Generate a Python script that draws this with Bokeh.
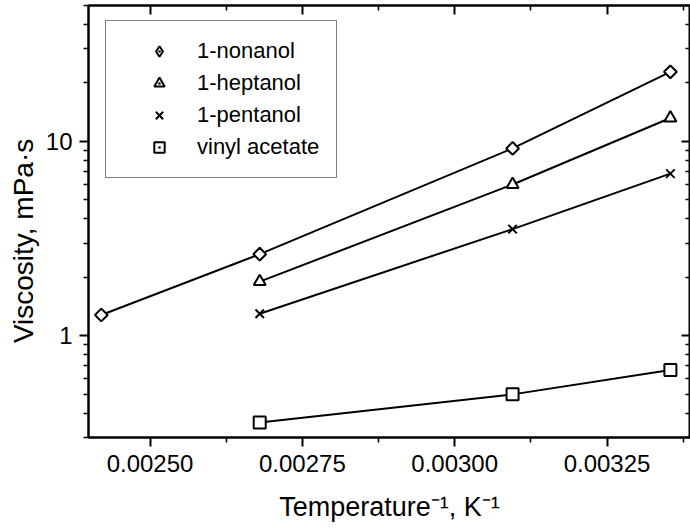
import math
from bokeh.plotting import figure
from bokeh.models import FixedTicker, PrintfTickFormatter, LinearAxis, LogAxis, Legend, LegendItem
from bokeh.embed import file_html
from bokeh.resources import INLINE

# inverse temperature, 1/K
inv_T_nonanol = [0.002420, 0.002680, 0.003095, 0.003354]
inv_T_others = [0.002680, 0.003095, 0.003354]

# viscosity, mPa·s
nonanol = [1.28, 2.63, 9.2, 22.8]
heptanol = [1.90, 6.0, 13.2]
pentanol = [1.30, 3.54, 6.83]
vinyl_acetate = [0.358, 0.50, 0.667]

series_names = ["1-nonanol", "1-heptanol", "1-pentanol", "vinyl acetate"]

x_major = [0.00250, 0.00275, 0.00300, 0.00325]
x_minor = [0.002625, 0.002875, 0.003125, 0.003375]
y_major = [1, 10]
y_minor = [0.3, 0.4, 0.5, 0.6, 0.7, 0.8, 0.9, 2, 3, 4, 5, 6, 7, 8, 9, 20, 30, 40, 50]

FONT = "Liberation Sans"
NB = "\u00a0"

p = figure(width=690, height=529, x_range=(0.002399, 0.003387), y_range=(0.3, 50),
           y_axis_type="log", output_backend="svg", toolbar_location=None,
           min_border_left=88, min_border_right=0, min_border_top=5, min_border_bottom=92,
           x_axis_label="Temperature\u207b\u00b9, K\u207b\u00b9",
           y_axis_label="Viscosity, mPa\u00b7s" + NB * 5)
p.grid.visible = False
p.outline_line_color = "black"
p.outline_line_width = 2
p.background_fill_color = "white"
p.border_fill_color = "white"

xt = FixedTicker(ticks=x_major, minor_ticks=x_minor)
yt = FixedTicker(ticks=y_major, minor_ticks=y_minor)

xa = p.xaxis[0]
xa.ticker = xt
xa.formatter = PrintfTickFormatter(format="%.5f")
ya = p.yaxis[0]
ya.ticker = yt
ya.formatter = PrintfTickFormatter(format="%d")

for ax in (xa, ya):
    ax.axis_line_width = 2
    ax.major_tick_line_width = 2
    ax.minor_tick_line_width = 1.5
    ax.major_tick_out = 9
    ax.major_tick_in = 0
    ax.minor_tick_out = 5
    ax.minor_tick_in = 0
    ax.major_label_text_font = FONT
    ax.major_label_text_font_size = "24px"
    ax.major_label_text_color = "black"
    ax.axis_label_text_font = FONT
    ax.axis_label_text_font_style = "normal"
    ax.axis_label_text_color = "black"
xa.axis_label_text_font_size = "27px"
ya.axis_label_text_font_size = "28px"
xa.major_label_standoff = 8
xa.axis_label_standoff = 17
ya.major_label_standoff = 7
ya.axis_label_standoff = 4

for ax, side in ((LinearAxis(ticker=xt), "above"), (LogAxis(ticker=yt), "right")):
    ax.major_label_text_font_size = "1px"
    ax.major_label_text_alpha = 0
    ax.major_label_standoff = 0
    ax.major_tick_out = 0
    ax.major_tick_in = 9
    ax.minor_tick_out = 0
    ax.minor_tick_in = 5
    ax.axis_line_width = 2
    ax.major_tick_line_width = 2
    ax.minor_tick_line_width = 1.5
    p.add_layout(ax, side)

# (x, y, plot marker, plot size, plot angle, legend marker, legend size)
data = [
    (inv_T_nonanol, nonanol, "square", 9, math.pi / 4, "diamond_dot", 13),
    (inv_T_others, heptanol, "triangle", 12, 0.0, "triangle_dot", 12),
    (inv_T_others, pentanol, "x", 12, 0.0, "x", 12),
    (inv_T_others, vinyl_acetate, "square", 12, 0.0, "square_dot", 12),
]

items = []
for (xs, ys, mk, sz, ang, lmk, lsz), name in zip(data, series_names):
    p.line(xs, ys, line_color="black", line_width=2)
    p.scatter(xs, ys, marker=mk, size=sz, angle=ang, line_color="black", line_width=2,
              fill_color="white")
    lr = p.scatter([float("nan")], [float("nan")], marker=lmk, size=lsz,
                   line_color="black", line_width=2, fill_color="white")
    items.append(LegendItem(label=name, renderers=[lr]))

legend = Legend(items=items, location=(17, 259), orientation="vertical",
                label_text_font=FONT, label_text_font_size="22px", label_text_color="black",
                glyph_width=72, glyph_height=26, label_height=26, label_standoff=2,
                spacing=6, padding=17, margin=0,
                border_line_color="black", border_line_width=1.5,
                background_fill_alpha=1.0)
p.add_layout(legend, "center")

open("out.html", "w").write(file_html(p, INLINE))
